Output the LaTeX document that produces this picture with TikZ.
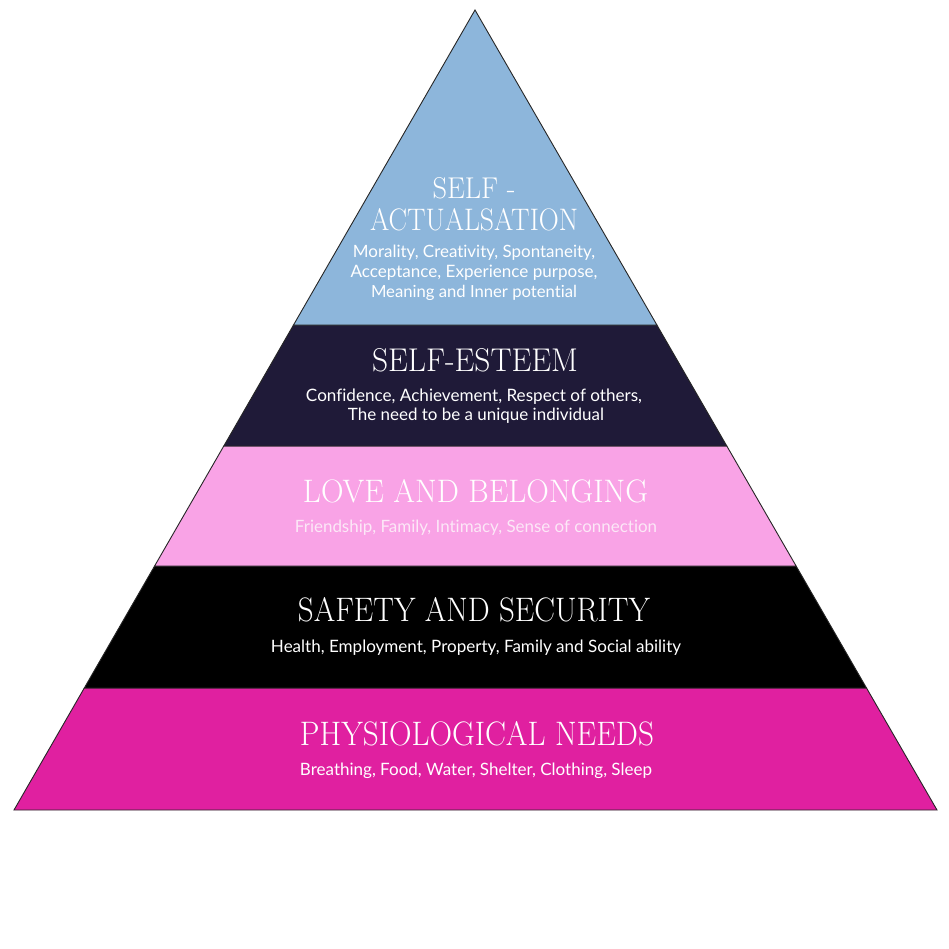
\documentclass[tikz,border=0pt]{standalone}
\usepackage{fontspec}
\setmainfont{Latin Modern Roman}
\newfontfamily\subfont{Lato}[Ligatures={NoCommon}]
\usepackage{graphicx}
\definecolor{tblue}{HTML}{8DB6DB}
\definecolor{tnavy}{HTML}{1F1A38}
\definecolor{tpink}{HTML}{F9A3E6}
\definecolor{tblk}{HTML}{000000}
\definecolor{tmag}{HTML}{E020A0}
\definecolor{pale}{HTML}{FCE8F7}
\newcommand\ttl[3]{\resizebox{#1pt}{#2pt}{\fontsize{30}{30}\selectfont #3}}
\newcommand\sub[2]{\resizebox{#1pt}{!}{\subfont\fontsize{14}{14}\selectfont #2}}
\begin{document}
\begin{tikzpicture}[x=1pt,y=-1pt,
  band/.style={draw=black!85, line width=0.9pt, line join=miter},
  ttlnode/.style={inner sep=0pt, text=white},
  subnode/.style={inner sep=0pt, text=white, anchor=base}]
\useasboundingbox (0,0) rectangle (949,949);
\fill[white] (0,0) rectangle (949,949);
% edge coordinates
\coordinate (apex) at (475,10);
\coordinate (l1) at (293.5,325); \coordinate (r1) at (656.9,325);
\coordinate (l2) at (223.8,446); \coordinate (r2) at (726.8,446);
\coordinate (l3) at (154.6,566); \coordinate (r3) at (796.1,566);
\coordinate (l4) at (84.3,688);  \coordinate (r4) at (866.5,688);
\coordinate (l5) at (14,810);    \coordinate (r5) at (937,810);
% bands
\filldraw[band, fill=tmag]  (l4) -- (r4) -- (r5) -- (l5) -- cycle;
\filldraw[band, fill=tblk]  (l3) -- (r3) -- (r4) -- (l4) -- cycle;
\filldraw[band, fill=tpink] (l2) -- (r2) -- (r3) -- (l3) -- cycle;
\filldraw[band, fill=tnavy] (l1) -- (r1) -- (r2) -- (l2) -- cycle;
\filldraw[band, fill=tblue] (apex) -- (r1) -- (l1) -- cycle;
% texts
\node[ttlnode] (t1a) at (474,188) {\ttl{83}{21}{SELF -}};
\node[ttlnode] (t1b) at (474,219.5) {\ttl{208}{22}{ACTUALSATION}};
\node[subnode] (s1a) at (474,258) {\sub{242}{Morality, Creativity, Spontaneity,}};
\node[subnode] (s1b) at (474,278) {\sub{247}{Acceptance, Experience purpose,}};
\node[subnode] (s1c) at (474,297) {\sub{206}{Meaning and Inner potential}};
\node[ttlnode] (t2) at (475,360) {\ttl{206}{23}{SELF-ESTEEM}};
\node[subnode] (s2a) at (474,401) {\sub{336}{Confidence, Achievement, Respect of others,}};
\node[subnode] (s2b) at (476,420) {\sub{256}{The need to be a unique individual}};
\node[ttlnode] (t3) at (475.5,491.5) {\ttl{345}{23}{LOVE AND BELONGING}};
\node[subnode, text=pale] (s3) at (476,532) {\sub{362}{Friendship, Family, Intimacy, Sense of connection}};
\node[ttlnode] (t4) at (474,610) {\ttl{352}{24}{SAFETY AND SECURITY}};
\node[subnode] (s4) at (476,652) {\sub{410}{Health, Employment, Property, Family and Social ability}};
\node[ttlnode] (t5) at (477,734) {\ttl{354}{24}{PHYSIOLOGICAL NEEDS}};
\node[subnode] (s5) at (476,775) {\sub{352}{Breathing, Food, Water, Shelter, Clothing, Sleep}};
\end{tikzpicture}
\end{document}
